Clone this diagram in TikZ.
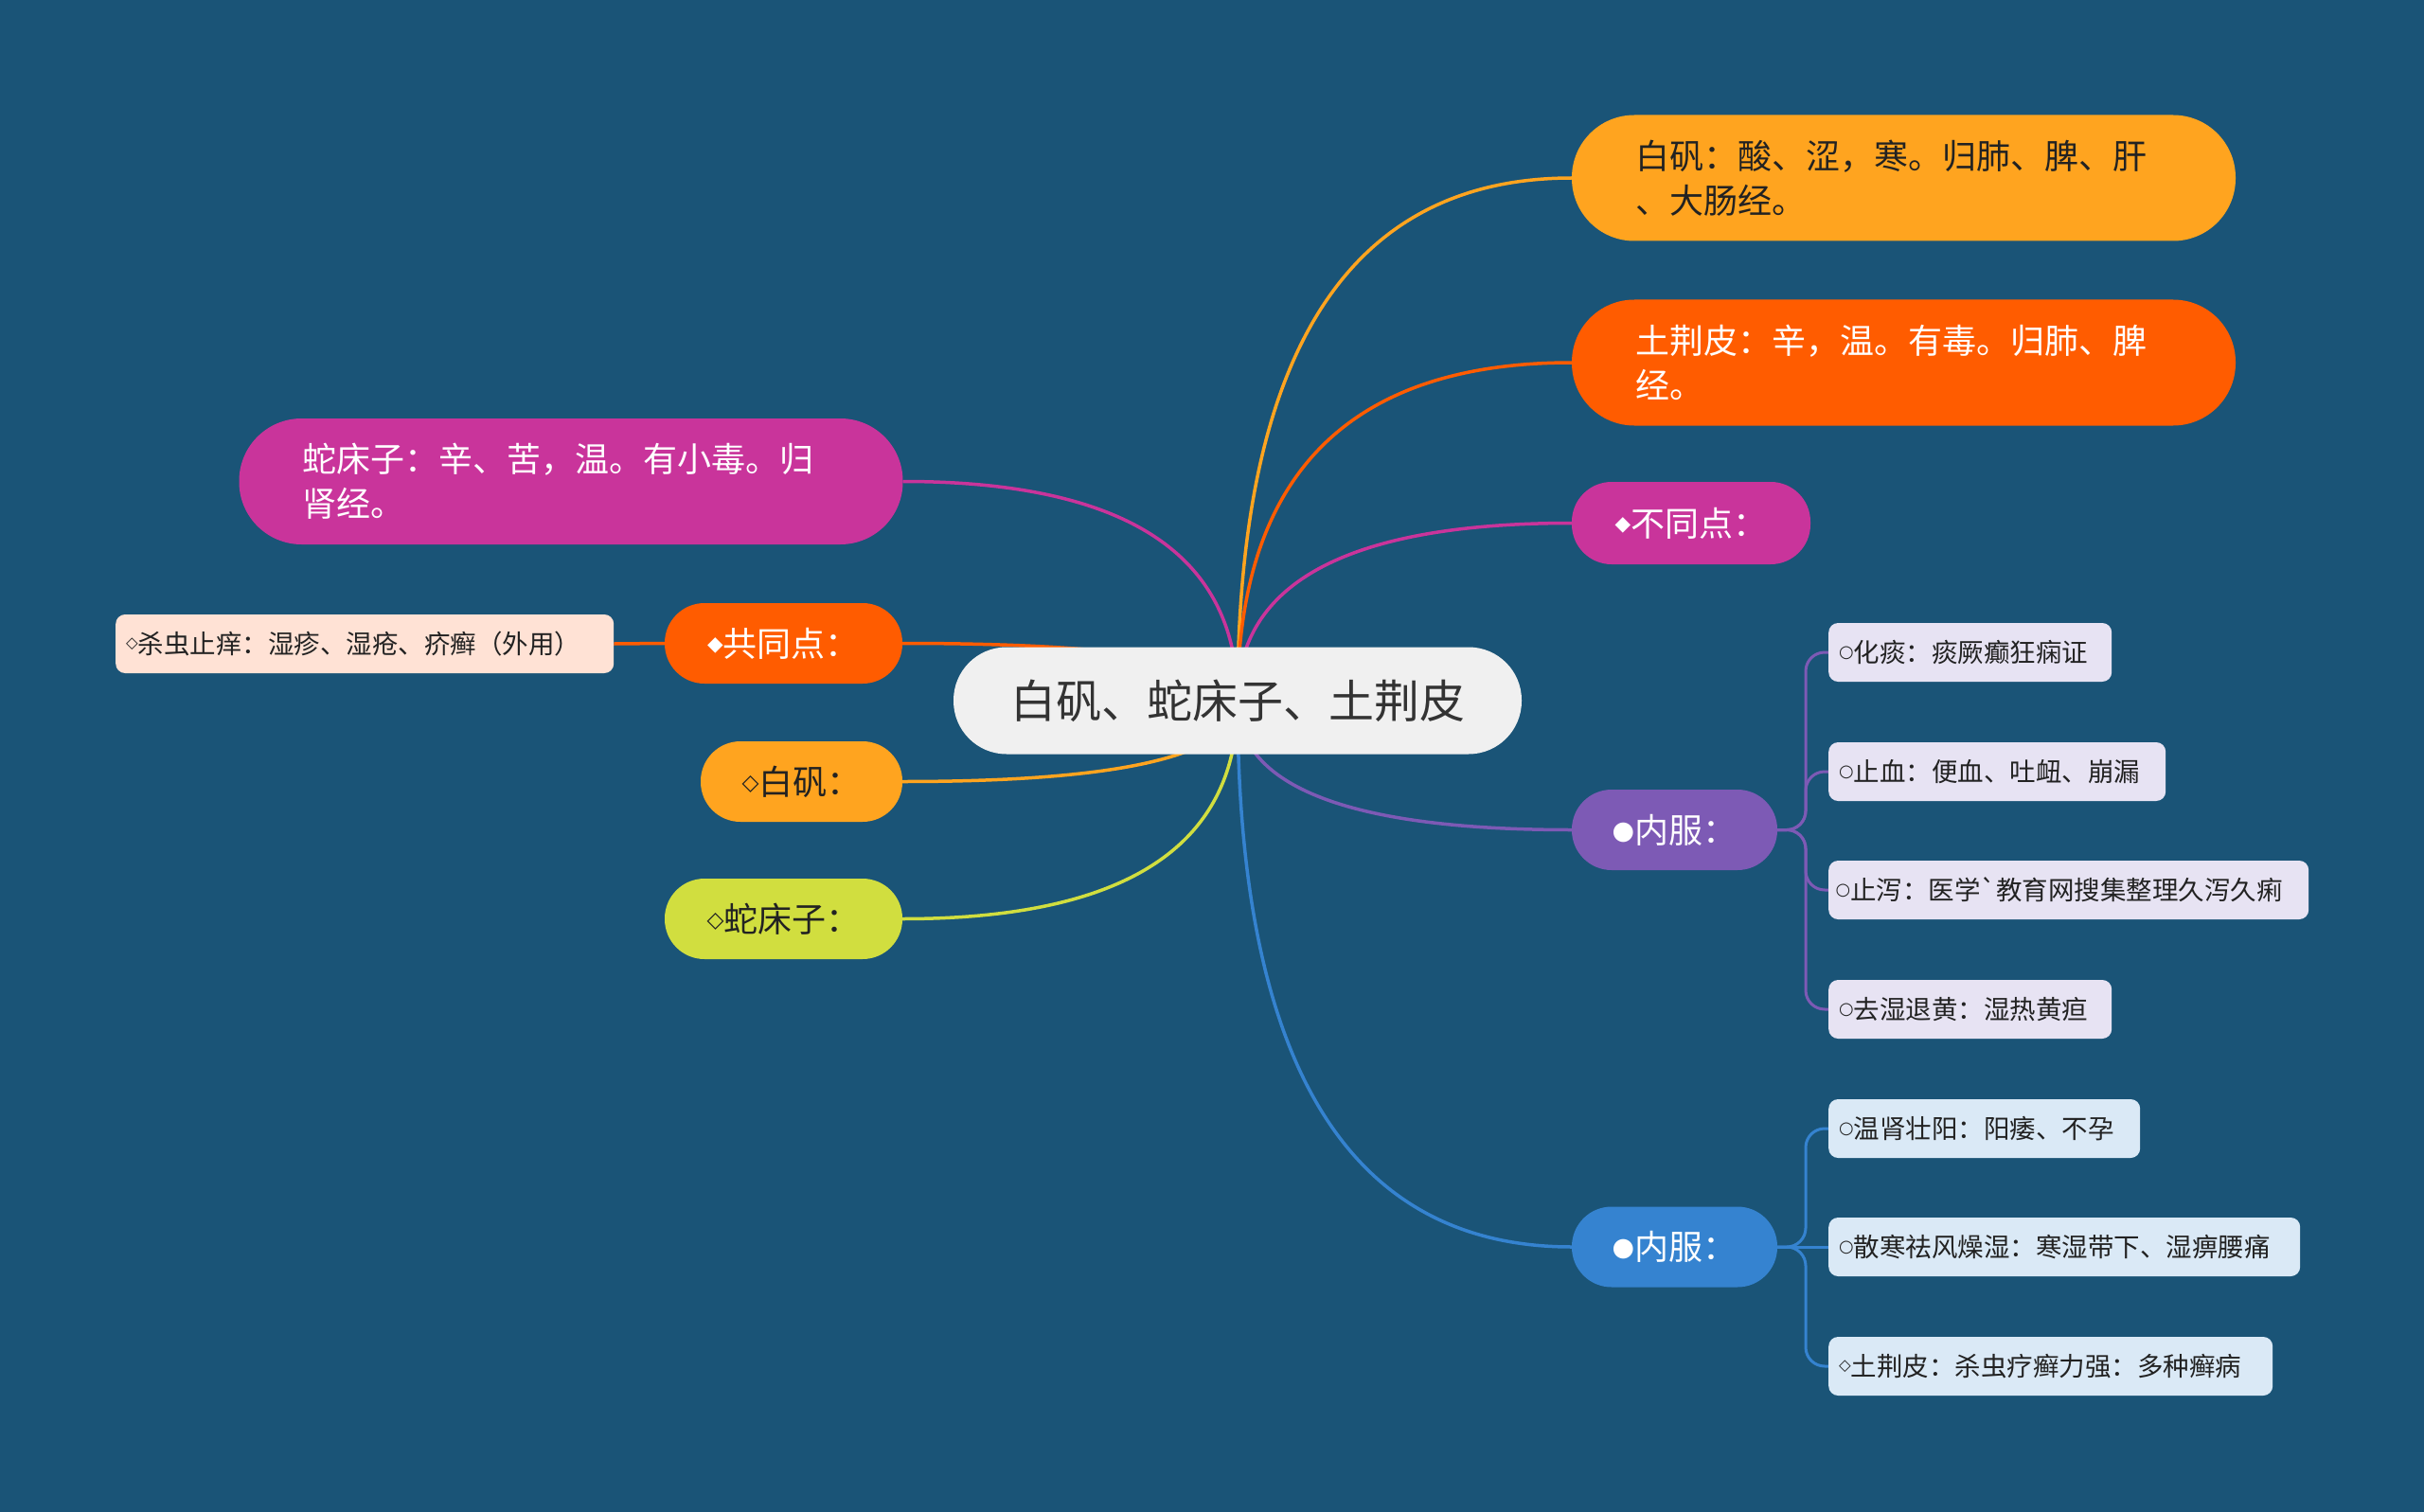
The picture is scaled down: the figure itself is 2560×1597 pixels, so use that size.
\documentclass[tikz,border=0pt]{standalone}
\usepackage{fontspec}
\usepackage{graphicx}
\setmainfont{Noto Sans CJK SC}[Ligatures=TeXOff]
\newfontfamily\symf{DejaVu Sans}
\usetikzlibrary{calc}
\pgfdeclarelayer{back}
\pgfdeclarelayer{lines}
\pgfsetlayers{back,lines,main}
\definecolor{bgc}{HTML}{1A5477}
\definecolor{cgray}{HTML}{F0F0F0}
\definecolor{ctext}{HTML}{333333}
\definecolor{dark}{HTML}{222222}
\definecolor{corange}{HTML}{FFA41F}
\definecolor{cred}{HTML}{FF5C00}
\definecolor{cmag}{HTML}{C9349B}
\definecolor{cpurp}{HTML}{7D5AB5}
\definecolor{cblue}{HTML}{3583D0}
\definecolor{cyg}{HTML}{D1DE3F}
\definecolor{lpurp}{HTML}{E7E3F3}
\definecolor{lblue}{HTML}{DAE9F6}
\definecolor{lpeach}{HTML}{FFE2D5}
\newcommand\mmsym[2]{\raisebox{0.13em}{$\vcenter{\hbox{\scalebox{#1}{\symf #2}}}$}}
\tikzset{
  fbig/.style={font=\fontsize{48}{58}\selectfont},
  fmid/.style={font=\fontsize{36}{47}\selectfont},
  fsml/.style={font=\fontsize{27.5}{33}\selectfont},
  centerbox/.style={rectangle, rounded corners=56, minimum width=600, minimum height=113, inner sep=0pt, fbig, fill=cgray, text=ctext},
  twoline/.style={rectangle, rounded corners=66, text width=567, inner xsep=67, inner ysep=0pt, minimum height=133, align=left, fmid},
  pill/.style={rectangle, rounded corners=42, minimum height=85, inner sep=0pt, align=center, fmid},
  leafbox/.style={rectangle, rounded corners=10, anchor=west, minimum height=62, inner xsep=11, inner ysep=0pt, align=left, fsml, text=dark},
  conn/.style={line width=3.5pt},
  leafline/.style={line width=3pt, rounded corners=20}
}
\newcommand\mmlink[2]{\draw[conn,#1] (c.center) .. controls ($(c.center)!0.667!(c.center|-#2)$) and ($(#2)!0.667!(c.center|-#2)$) .. (#2);}
\begin{document}
\begin{tikzpicture}[x=1pt,y=-1pt]
\begin{pgfonlayer}{back}
\fill[bgc] (0,0) rectangle (2560,1597);
\end{pgfonlayer}
\useasboundingbox (0,0) rectangle (2560,1597);

% centre
\node[centerbox] (c) at (1307,740) {白矾、蛇床子、土荆皮};

% right main branches
\node[twoline, fill=corange, text=dark] (r1) at (2010.5,188) {白矾：酸、涩，寒。归肺、脾、肝\\、大肠经。};
\node[twoline, fill=cred, text=white] (r2) at (2010.5,383) {土荆皮：辛，温。有毒。归肺、脾\\经。};
\node[pill, fill=cmag, text=white, minimum width=252, minimum height=87] (r3) at (1786,552.5) {\mmsym{0.6}{◆}不同点：};
\node[pill, fill=cpurp, text=white, minimum width=217] (r4) at (1768.5,876.5) {\mmsym{0.75}{●}内服：};
\node[pill, fill=cblue, text=white, minimum width=217] (r5) at (1768.5,1317) {\mmsym{0.75}{●}内服：};

% left main branches
\node[twoline, fill=cmag, text=white] (l1) at (603,508.5) {蛇床子：辛、苦，温。有小毒。归\\肾经。};
\node[pill, fill=cred, text=white, minimum width=251] (l2) at (827.5,679.5) {\mmsym{0.6}{◆}共同点：};
\node[pill, fill=corange, text=dark, minimum width=213] (l3) at (846.5,825.5) {\mmsym{0.65}{◇}白矾：};
\node[pill, fill=cyg, text=dark, minimum width=251] (l4) at (827.5,970.5) {\mmsym{0.65}{◇}蛇床子：};

% left leaf
\node[leafbox, fill=lpeach, text width=504] (lf) at (122,680) {\mmsym{0.6}{◇}杀虫止痒：湿疹、湿疮、疥癣（外用）};

% purple leaves
\node[leafbox, fill=lpurp, text width=277] (a1) at (1931,689) {\mmsym{0.65}{○}化痰：痰厥癫狂痫证};
\node[leafbox, fill=lpurp, text width=334] (a2) at (1931,815) {\mmsym{0.65}{○}止血：便血、吐衄、崩漏};
\node[leafbox, fill=lpurp, text width=492, inner xsep=7.5] (a3) at (1931,940) {\mmsym{0.65}{○}止泻：医学`教育网搜集整理久泻久痢};
\node[leafbox, fill=lpurp, text width=277] (a4) at (1931,1066) {\mmsym{0.65}{○}去湿退黄：湿热黄疸};

% blue leaves
\node[leafbox, fill=lblue, text width=307] (b1) at (1931,1192) {\mmsym{0.65}{○}温肾壮阳：阳痿、不孕};
\node[leafbox, fill=lblue, text width=476] (b2) at (1931,1317) {\mmsym{0.65}{○}散寒祛风燥湿：寒湿带下、湿痹腰痛};
\node[leafbox, fill=lblue, text width=447] (b3) at (1931,1443) {\mmsym{0.6}{◇}土荆皮：杀虫疗癣力强：多种癣病};

\begin{pgfonlayer}{lines}
\mmlink{draw=corange}{r1.west}
\mmlink{draw=cred}{r2.west}
\mmlink{draw=cmag}{r3.west}
\mmlink{draw=cpurp}{r4.west}
\mmlink{draw=cblue}{r5.west}
\mmlink{draw=cmag}{l1.east}
\mmlink{draw=cred}{l2.east}
\mmlink{draw=corange}{l3.east}
\mmlink{draw=cyg}{l4.east}
\draw[conn, draw=cred] (l2.west) -- (lf.east);
\draw[leafline, draw=cpurp] (r4.east) -| ($(a1.west)+(-24,0)$) -- (a1.west);
\draw[leafline, draw=cpurp] (r4.east) -| ($(a2.west)+(-24,0)$) -- (a2.west);
\draw[leafline, draw=cpurp] (r4.east) -| ($(a3.west)+(-24,0)$) -- (a3.west);
\draw[leafline, draw=cpurp] (r4.east) -| ($(a4.west)+(-24,0)$) -- (a4.west);
\draw[leafline, draw=cblue] (r5.east) -| ($(b1.west)+(-24,0)$) -- (b1.west);
\draw[leafline, draw=cblue] (r5.east) -- (b2.west);
\draw[leafline, draw=cblue] (r5.east) -| ($(b3.west)+(-24,0)$) -- (b3.west);
\end{pgfonlayer}
\end{tikzpicture}
\end{document}
